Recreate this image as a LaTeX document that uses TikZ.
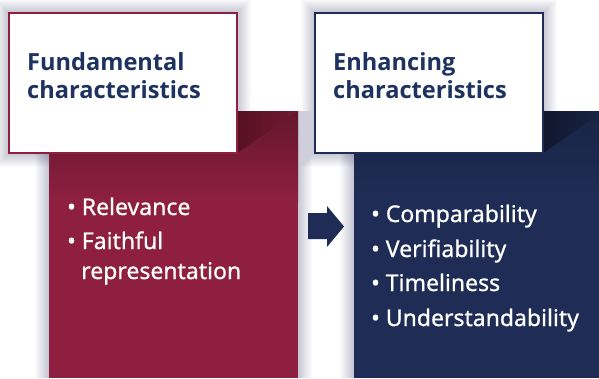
\documentclass[tikz,border=0pt]{standalone}
\usepackage{fontspec}
\setmainfont{Noto Sans}
\newfontfamily\titlefont{Open Sans}
\newfontfamily\itemfont{Noto Sans}[FakeBold=0.8]
\usepackage{xcolor}
\usetikzlibrary{positioning}

\definecolor{maroon}{HTML}{8E1F41}
\definecolor{maroondark}{HTML}{561020}
\definecolor{navy}{HTML}{1F2D56}
\definecolor{navydark}{HTML}{10172E}
\definecolor{titleblue}{HTML}{1E3260}

\begin{document}
\begin{tikzpicture}[
    x=1pt, y=-1pt,
    titlebox/.style={line width=1.6pt, fill=white},
    titletext/.style={anchor=base west, inner sep=0, text=titleblue, font=\titlefont\fontsize{23.6}{28}\selectfont\bfseries},
    item/.style={anchor=base west, inner sep=0, text=white, font=\itemfont\fontsize{23}{27}\selectfont}
]
\useasboundingbox (0,0) rectangle (599,378);
\fill[white] (0,0) rectangle (599,378);

% Soft shadows
\foreach \i in {1,...,14} {
  \fill[blue!30!black, opacity=0.016] ({49-\i},111) rectangle ({298+\i},378);
  \fill[blue!30!black, opacity=0.016] ({354-\i},111) rectangle (604,378);
  \fill[blue!30!black, opacity=0.016] ({9-\i},{13-\i}) rectangle ({237+\i},{153+\i});
  \fill[blue!30!black, opacity=0.016] ({315-\i},{13-\i}) rectangle ({543+\i},{153+\i});
}

% Left panel
\fill[maroon] (49,111) rectangle (298,378);
\shade[top color=maroon!70!black, bottom color=maroon] (49,111) rectangle (298,200);
\shade[left color=maroondark, right color=maroon!80!black] (237,111) -- (298,111) -- (237,153) -- cycle;

% Right panel
\fill[navy] (354,111) rectangle (604,378);
\shade[top color=navy!80!black, bottom color=navy] (354,111) rectangle (604,200);
\shade[left color=navydark, right color=navy!80!black] (543,111) -- (604,111) -- (543,153) -- cycle;

% Title boxes
\draw[titlebox, draw=maroon] (9,13) rectangle (237,153);
\draw[titlebox, draw=navy] (315,13) rectangle (543,153);

\node[titletext] (f1) at (27,70) {Fundamental};
\node[titletext] (f2) at (27,98) {characteristics};
\node[titletext] (e1) at (333,70) {Enhancing};
\node[titletext] (e2) at (333,98) {characteristics};

% Arrow
\fill[navy] (308,213) -- (327,213) -- (327,206) -- (344,226.5) -- (327,247) -- (327,239) -- (308,239) -- cycle;

% Fundamental items
\node[item] (rel) at (67,215) {• Relevance};
\node[item] (fai) at (67,249) {• Faithful};
\node[item] (rep) at (81,279) {representation};

% Enhancing items
\node[item] (com) at (371,222) {• Comparability};
\node[item] (ver) at (371,257) {• Verifiability};
\node[item] (tim) at (371,291) {• Timeliness};
\node[item] (und) at (371,326) {• Understandability};

\end{tikzpicture}
\end{document}
